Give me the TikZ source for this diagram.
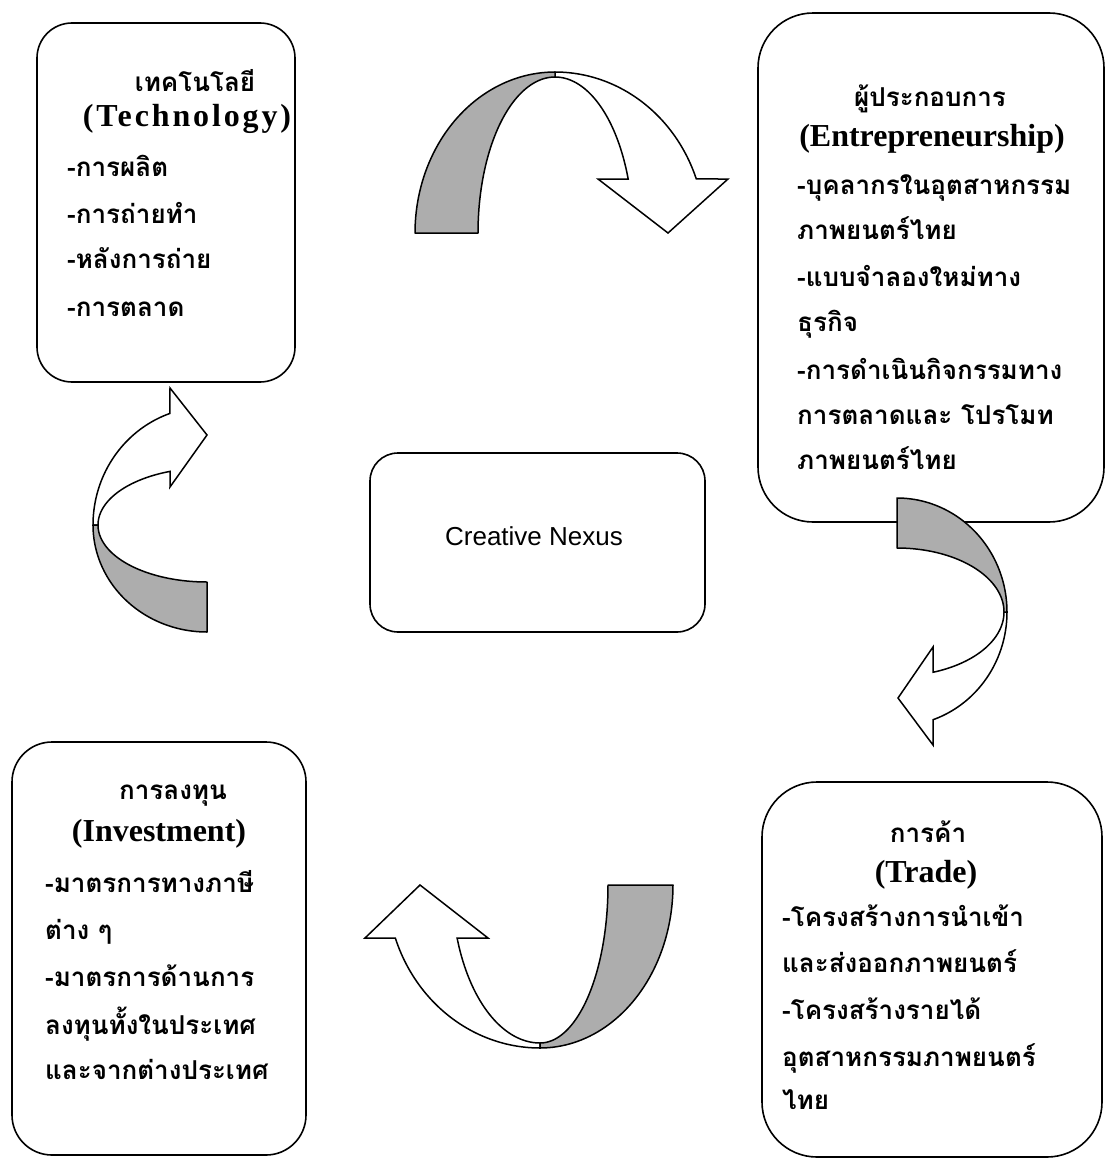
\documentclass[tikz,border=0pt]{standalone}
\usepackage{fontspec}
\setmainfont{Liberation Serif}
\newfontfamily\thai[Script=Thai]{Loma}
\newfontfamily\sans{Liberation Sans}
\begin{document}
\begin{tikzpicture}[x=1pt,y=-1pt,
  roundbox/.style={draw=black,line width=1.6pt,fill=white,rectangle,inner sep=0pt},
  thline/.style={anchor=mid west,inner sep=0pt,yshift=-7pt,font=\thai\bfseries\fontsize{26}{26}\selectfont},
  thhead/.style={anchor=mid,inner sep=0pt,yshift=-7pt,font=\thai\bfseries\fontsize{26}{26}\selectfont},
  enhead/.style={anchor=mid,inner sep=0pt,yshift=-7pt,font=\bfseries\fontsize{32}{32}\selectfont},
  backband/.style={draw=black,line width=1.5pt,fill=black!32,line join=round},
  frontband/.style={draw=black,line width=1.5pt,fill=white,line join=miter}]
\useasboundingbox (0,0) rectangle (1106,1159);

% boxes
\node[roundbox,rounded corners=35pt,minimum width=258pt,minimum height=359pt] (tech) at (166,202.5) {};
\node[roundbox,rounded corners=55pt,minimum width=346pt,minimum height=509pt] (entr) at (931,267.5) {};
\node[roundbox,rounded corners=40pt,minimum width=294pt,minimum height=413pt] (inv) at (159,948.5) {};
\node[roundbox,rounded corners=55pt,minimum width=340pt,minimum height=375pt] (trade) at (932,969.5) {};
\node[roundbox,rounded corners=28pt,minimum width=335pt,minimum height=179pt] (nexus) at (537.5,542.5) {};
\node[inner sep=0pt,font=\sans\fontsize{26}{26}\selectfont] (nexus-label) at (534,536) {Creative Nexus};

% technology
\node[thhead] (tech-th) at (195,82) {เทคโนโลยี};
\node[enhead,font=\bfseries\addfontfeature{LetterSpace=9}\fontsize{32}{32}\selectfont] (tech-en) at (187,117) {(Technology)};
\node[thline] (tech-a) at (67,167) {-การผลิต};
\node[thline] (tech-b) at (67,214) {-การถ่ายทำ};
\node[thline] (tech-c) at (67,259) {-หลังการถ่าย};
\node[thline] (tech-d) at (67,307) {-การตลาด};

% entrepreneurship
\node[thhead] (entr-th) at (930,97) {ผู้ประกอบการ};
\node[enhead] (entr-en) at (932,137) {(Entrepreneurship)};
\node[thline] (entr-a) at (797,185) {-บุคลากรในอุตสาหกรรม};
\node[thline] (entr-b) at (797,230) {ภาพยนตร์ไทย};
\node[thline] (entr-c) at (797,277) {-แบบจำลองใหม่ทาง};
\node[thline] (entr-d) at (797,322) {ธุรกิจ};
\node[thline] (entr-e) at (797,370) {-การดำเนินกิจกรรมทาง};
\node[thline] (entr-f) at (797,415) {การตลาดและ โปรโมท};
\node[thline] (entr-g) at (797,460) {ภาพยนตร์ไทย};

% investment
\node[thhead] (inv-th) at (173,790) {การลงทุน};
\node[enhead] (inv-en) at (159,832) {(Investment)};
\node[thline] (inv-a) at (45,883) {-มาตรการทางภาษี};
\node[thline] (inv-b) at (45,930) {ต่าง ๆ};
\node[thline] (inv-c) at (45,977) {-มาตรการด้านการ};
\node[thline] (inv-d) at (45,1025) {ลงทุนทั้งในประเทศ};
\node[thline] (inv-e) at (45,1070) {และจากต่างประเทศ};

% trade
\node[thhead] (trade-th) at (928,833) {การค้า};
\node[enhead] (trade-en) at (926,873) {(Trade)};
\node[thline] (trade-a) at (782,917) {-โครงสร้างการนำเข้า};
\node[thline] (trade-b) at (782,963) {และส่งออกภาพยนตร์};
\node[thline] (trade-c) at (782,1010) {-โครงสร้างรายได้};
\node[thline] (trade-d) at (782,1057) {อุตสาหกรรมภาพยนตร์};
\node[thline] (trade-e) at (782,1100) {ไทย};

% curved arrow: technology -> entrepreneurship
\draw[frontband] plot[domain=90:19.6,samples=50] ({555+150*cos(\x)},{233-161*sin(\x)})
  -- (728,179) -- (668,233) -- (598,179)
  -- plot[domain=20.25:90,samples=50] ({555+78*cos(\x)},{233-156*sin(\x)}) -- cycle;
\draw[backband] plot[domain=90:180,samples=50] ({555+140*cos(\x)},{233-161*sin(\x)})
  -- plot[domain=180:90,samples=50] ({555+77*cos(\x)},{233-156*sin(\x)}) -- cycle;

% curved arrow: entrepreneurship -> trade
\draw[frontband] plot[domain=0:-70.9,samples=50] ({897+110*cos(\x)},{612-114*sin(\x)})
  -- (933,745) -- (898,698) -- (933,647)
  -- plot[domain=-70.3:0,samples=50] ({897+107*cos(\x)},{612-64*sin(\x)}) -- cycle;
\draw[backband] plot[domain=90:0,samples=50] ({897+110*cos(\x)},{612-114*sin(\x)})
  -- plot[domain=0:90,samples=50] ({897+107*cos(\x)},{612-64*sin(\x)}) -- cycle;

% curved arrow: trade -> investment
\draw[frontband] plot[domain=-90:-161,samples=50] ({540+153*cos(\x)},{885-163*sin(\x)})
  -- (365,938) -- (420,885) -- (488,938)
  -- plot[domain=-160.4:-90,samples=50] ({540+88*cos(\x)},{885-158*sin(\x)}) -- cycle;
\draw[backband] plot[domain=0:-90,samples=50] ({540+133*cos(\x)},{885-163*sin(\x)})
  -- plot[domain=-90:0,samples=50] ({540+68*cos(\x)},{885-158*sin(\x)}) -- cycle;

% curved arrow: investment -> technology
\draw[frontband] plot[domain=180:109,samples=50] ({207+114*cos(\x)},{525-118*sin(\x)})
  -- (170,388) -- (207,435) -- (170,487)
  -- plot[domain=109.8:180,samples=50] ({207+109*cos(\x)},{525-57*sin(\x)}) -- cycle;
\draw[backband] plot[domain=-90:-180,samples=50] ({207+114*cos(\x)},{525-107*sin(\x)})
  -- plot[domain=-180:-90,samples=50] ({207+109*cos(\x)},{525-57*sin(\x)}) -- cycle;
\end{tikzpicture}
\end{document}
